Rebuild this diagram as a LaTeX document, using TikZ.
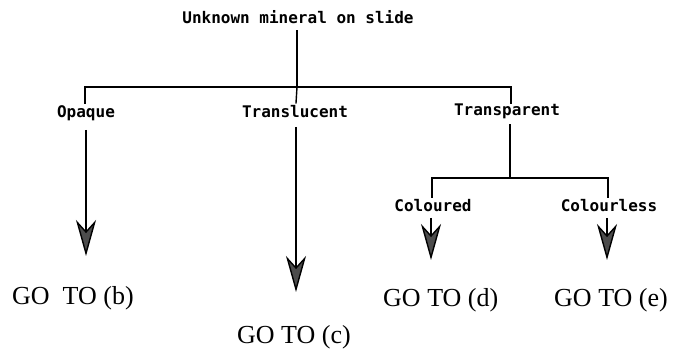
\documentclass[tikz,border=0pt]{standalone}
\usepackage{fontspec}
\setmainfont{Liberation Serif}
\newfontfamily\keyfont{DejaVu Sans Mono}
\usetikzlibrary{arrows.meta}
\begin{document}
\begin{tikzpicture}[x=1pt,y=-1pt,
    ln/.style={line width=1.4pt,line cap=rect},
    arr/.style={line width=1.4pt,
      -{Stealth[length=36pt,width=20pt,inset=11pt,fill=black!70]}},
    key/.style={font=\keyfont\bfseries\fontsize{16}{16}\selectfont,
      inner sep=0pt,anchor=base},
    goto/.style={font=\fontsize{26}{26}\selectfont,inner sep=0pt,
      anchor=base west}]
  \useasboundingbox (0,0) rectangle (679,352);

  % labels of the key
  \node[key] (title) at (298,24) {Unknown mineral on slide};
  \node[key] (opq) at (86,118) {Opaque};
  \node[key] (trl) at (295,118) {Translucent};
  \node[key] (trp) at (507,116) {Transparent};
  \node[key] (col) at (433,212) {Coloured};
  \node[key] (cls) at (609,212) {Colourless};

  % destinations
  \node[goto] (gb) at (12,305) {GO\ \ TO (b)};
  \node[goto] (gc) at (237,343) {GO TO (c)};
  \node[goto] (gd) at (383,306) {GO TO (d)};
  \node[goto] (ge) at (554,306) {GO TO (e)};

  % branch points and arrow ends
  \coordinate (t0) at (297,31);
  \coordinate (hm) at (297,87);
  \coordinate (hl) at (85,87);
  \coordinate (hr) at (511,87);
  \coordinate (dl) at (85,103);
  \coordinate (dm) at (296,103);
  \coordinate (dr) at (511,103);
  \coordinate (o0) at (86,130);
  \coordinate (o1) at (86,256);
  \coordinate (c0) at (296,127);
  \coordinate (c1) at (296,292);
  \coordinate (p0) at (510,125);
  \coordinate (p1) at (510,178);
  \coordinate (sl) at (432,178);
  \coordinate (sr) at (608,178);
  \coordinate (sld) at (432,197);
  \coordinate (srd) at (608,197);
  \coordinate (d0) at (431,218);
  \coordinate (d1) at (431,260);
  \coordinate (e0) at (607,218);
  \coordinate (e1) at (607,260);

  % first division
  \draw[ln] (t0) -- (hm);
  \draw[ln] (dl) -- (hl) -- (hr) -- (dr);
  \draw[ln] (hm) -- (dm);

  % branches
  \draw[arr] (o0) -- (o1);
  \draw[arr] (c0) -- (c1);
  \draw[ln] (p0) -- (p1);
  \draw[ln] (sld) -- (sl) -- (sr) -- (srd);
  \draw[arr] (d0) -- (d1);
  \draw[arr] (e0) -- (e1);
\end{tikzpicture}
\end{document}
